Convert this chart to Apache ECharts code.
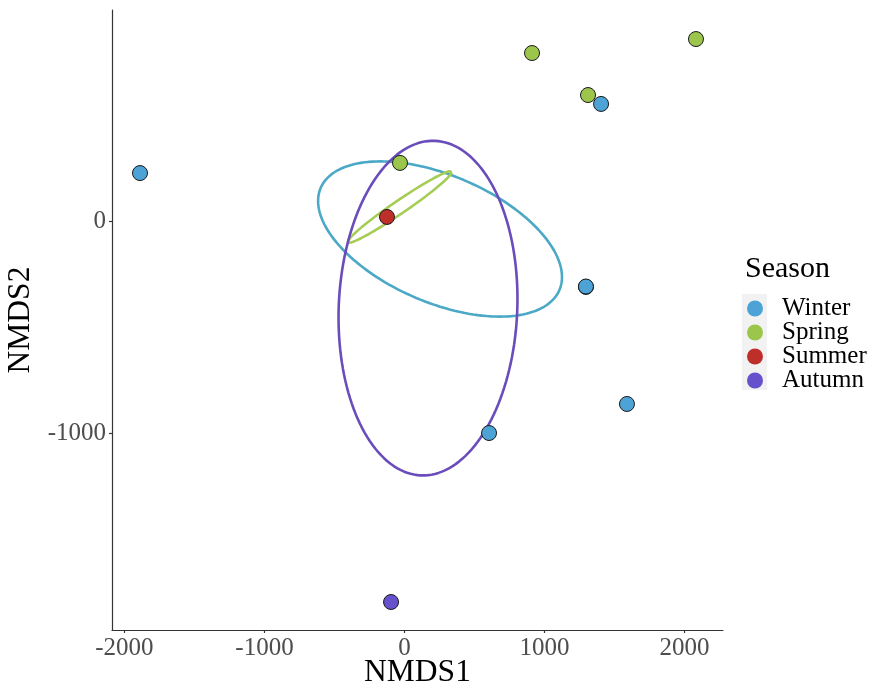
<!DOCTYPE html>
<html>
<head>
<meta charset="utf-8">
<script src="https://cdn.jsdelivr.net/npm/echarts@6/dist/echarts.min.js"></script>
<style>html,body{margin:0;padding:0;background:#fff;}#chart{width:870px;height:692px;}</style>
</head>
<body>
<div id="chart"></div>
<script>
// ---- data ----
const seasons = ['Winter', 'Spring', 'Summer', 'Autumn'];
const winterPts = [[-1889, 226], [1404, 552], [1296, -311], [1296, -309], [1589, -863], [604, -1000]];
const springPts = [[911, 792], [2082, 858], [1311, 594], [-32, 274]];
const summerPts = [[-125, 19]];
const autumnPts = [[-96, -1797]];
const xTicks = [-2000, -1000, 0, 1000, 2000];
const yTicks = [-1000, 0];
// ellipse parameters: centre, half-extent in x and y, correlation
const winterEllipse = {cx: 254, cy: -85, sx: 871, sy: 366, r: -0.49};
const springEllipse = {cx: -34, cy: 66, sx: 372, sy: 169, r: 0.976};
const autumnEllipse = {cx: 168, cy: -411, sx: 639, sy: 789, r: 0.056};

const pointColors = ['#4DA3D5', '#9CC64B', '#BF2F2A', '#6650CB'];
const ellipseColors = ['#4BA8C6', '#A5CD55', '#6A4CBB'];

function ellipse(p) {
  const pts = [];
  const n = 160;
  const q = Math.sqrt(1 - p.r * p.r);
  for (let i = 0; i <= n; i++) {
    const t = 2 * Math.PI * i / n;
    pts.push([p.cx + p.sx * Math.cos(t), p.cy + p.sy * (p.r * Math.cos(t) + q * Math.sin(t))]);
  }
  return pts;
}

const font = 'Liberation Serif, Times New Roman, serif';
const chart = echarts.init(document.getElementById('chart'), null, {renderer: 'canvas'});

function scatter(name, data, color) {
  return {
    name: name, type: 'scatter', data: data, symbol: 'circle', symbolSize: 15, z: 5,
    itemStyle: {color: color, borderColor: '#1a1a1a', borderWidth: 1, opacity: 1},
    emphasis: {disabled: true}
  };
}
function ring(data, color) {
  return {
    type: 'line', data: data, showSymbol: false, symbol: 'none', smooth: false, z: 3,
    lineStyle: {color: color, width: 2.6}, silent: true, animation: false
  };
}
const plain = v => String(v);

chart.setOption({
  animation: false,
  backgroundColor: '#fff',
  grid: {left: 112, right: 147, top: 10, bottom: 62, containLabel: false, outerBoundsMode: 'none'},
  xAxis: {
    type: 'value', min: -2089, max: 2275,
    name: 'NMDS1', nameLocation: 'middle', nameGap: 27, nameMoveOverlap: false,
    nameTextStyle: {fontFamily: font, fontSize: 31.5, color: '#000'},
    axisLine: {show: true, onZero: false, lineStyle: {color: '#333', width: 1.2}},
    axisTick: {show: true, length: 3, customValues: xTicks, lineStyle: {color: '#333', width: 1.2}},
    axisLabel: {customValues: xTicks, formatter: plain, fontFamily: font, fontSize: 25, color: '#4D4D4D', margin: 6},
    splitLine: {show: false}
  },
  yAxis: {
    type: 'value', min: -1929, max: 995,
    name: 'NMDS2', nameLocation: 'middle', nameGap: 46, nameRotate: 90,
    nameTextStyle: {fontFamily: font, fontSize: 31.5, color: '#000'},
    axisLine: {show: true, onZero: false, lineStyle: {color: '#333', width: 1.2}},
    axisTick: {show: true, length: 3, customValues: yTicks, lineStyle: {color: '#333', width: 1.2}},
    axisLabel: {customValues: yTicks, formatter: plain, fontFamily: font, fontSize: 25, color: '#4D4D4D', margin: 6},
    splitLine: {show: false}
  },
  legend: {
    data: seasons, orient: 'vertical', left: 742, top: 291,
    icon: 'circle', itemWidth: 22, itemHeight: 16, itemGap: -1,
    itemStyle: {borderWidth: 0},
    textStyle: {fontFamily: font, fontSize: 25, color: '#000', lineHeight: 23, padding: [0, 0, 0, 11]},
    selectedMode: false
  },
  graphic: [
    {type: 'rect', left: 742, top: 294, z: -1, shape: {width: 25, height: 96}, style: {fill: '#F2F2F2'}},
    {type: 'text', left: 745, top: 254, style: {text: 'Season', fontFamily: font, fontSize: 30, fill: '#000'}}
  ],
  series: [
    ring(ellipse(winterEllipse), ellipseColors[0]),
    ring(ellipse(springEllipse), ellipseColors[1]),
    ring(ellipse(autumnEllipse), ellipseColors[2]),
    scatter('Winter', winterPts, pointColors[0]),
    scatter('Spring', springPts, pointColors[1]),
    scatter('Summer', summerPts, pointColors[2]),
    scatter('Autumn', autumnPts, pointColors[3])
  ]
});
</script>
</body>
</html>
